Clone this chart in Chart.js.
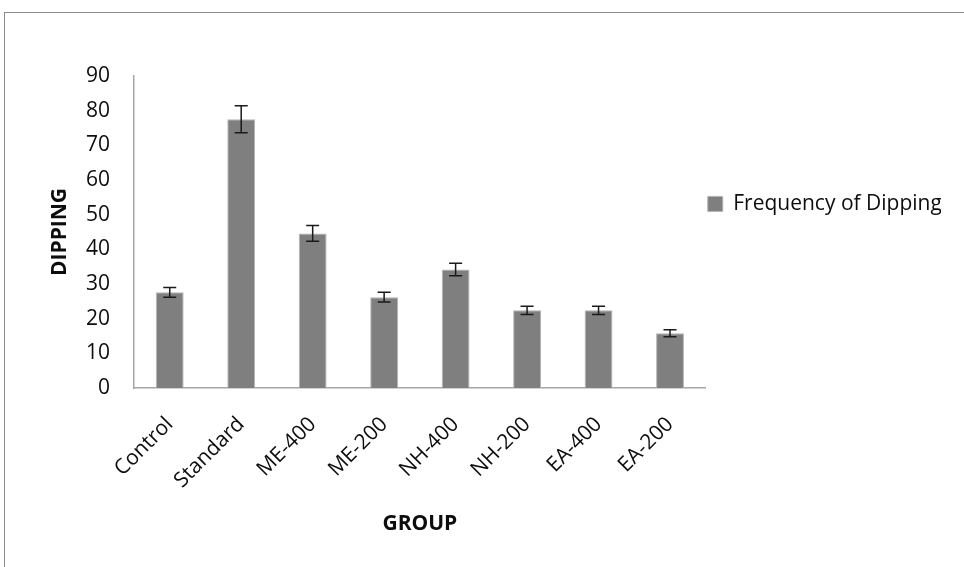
<!DOCTYPE html>
<html>
<head>
<meta charset="utf-8">
<title>Frequency of Dipping</title>
<script src="https://cdn.jsdelivr.net/npm/chart.js@4.4.1/dist/chart.umd.min.js"></script>
<style>
    html, body { margin: 0; padding: 0; background: #fff; overflow: hidden; }
    #chart { position: absolute; left: 0; top: 0; }
    /* outer frame of the pasted figure (right/bottom edge fall off the page) */
    .frame {
        position: absolute; left: 4px; top: 12px;
        width: 1000px; height: 600px;
        border: 1px solid #8c8c8c;
        pointer-events: none;
    }
</style>
</head>
<body>
<canvas id="chart" width="964" height="567"></canvas>
<div class="frame"></div>
<script>
// --- Data ---
const groups = ['Control', 'Standard', 'ME-400', 'ME-200', 'NH-400', 'NH-200', 'EA-400', 'EA-200'];
const dipping = [27.6, 77.5, 44.6, 26.2, 34.2, 22.4, 22.4, 15.8];
const dippingErr = [1.4, 3.9, 2.3, 1.4, 1.8, 1.2, 1.2, 1.0];
const yTicks = [0, 10, 20, 30, 40, 50, 60, 70, 80, 90];

const textColor = '#0d0d0d';
const axisColor = '#a6a6a6';
const fontFamily = '"Open Sans", "Noto Sans", sans-serif';

// --- Error bars (drawn from the same scales as the bars) ---
const errorBars = {
    id: 'errorBars',
    afterDatasetsDraw(chart) {
        const { ctx, scales: { x, y } } = chart;
        ctx.save();
        ctx.strokeStyle = '#1a1a1a';
        ctx.lineWidth = 1.5;
        dipping.forEach((v, i) => {
            const cx = x.getPixelForValue(i);
            const top = y.getPixelForValue(v + dippingErr[i]);
            const bot = y.getPixelForValue(v - dippingErr[i]);
            const cap = 6.5;
            ctx.beginPath();
            ctx.moveTo(cx, top); ctx.lineTo(cx, bot);
            ctx.moveTo(cx - cap, top); ctx.lineTo(cx + cap, top);
            ctx.moveTo(cx - cap, bot); ctx.lineTo(cx + cap, bot);
            ctx.stroke();
        });
        ctx.restore();
    }
};

const ctx = document.getElementById('chart').getContext('2d');
const chart = new Chart(ctx, {
    type: 'bar',
    data: {
        labels: groups,
        datasets: [{
            label: 'Frequency of Dipping',
            data: dipping,
            backgroundColor: '#7f7f7f',
            borderColor: '#b4b4b4',
            borderWidth: 1,
            barPercentage: 0.39,
            categoryPercentage: 1
        }]
    },
    options: {
        responsive: false,
        animation: false,
        devicePixelRatio: 1,
        layout: { padding: { left: 0, top: 76, right: 23, bottom: 0 } },
        plugins: {
            tooltip: { enabled: false },
            legend: {
                position: 'right',
                align: 'start',
                // empty title used only to push the item down to where it sits
                title: { display: true, text: ' ', padding: { top: 101, bottom: 0 } },
                labels: {
                    boxWidth: 15,
                    boxHeight: 15,
                    padding: 2,
                    color: textColor,
                    font: { family: fontFamily, size: 21 }
                }
            }
        },
        scales: {
            x: {
                grid: { display: false, drawTicks: false },
                border: { display: true, color: axisColor, width: 1.5 },
                ticks: {
                    color: textColor,
                    font: { family: fontFamily, size: 21 },
                    minRotation: 45,
                    maxRotation: 45,
                    padding: 24
                },
                title: {
                    display: true,
                    text: 'GROUP',
                    color: textColor,
                    font: { family: fontFamily, size: 21, weight: 'bold' },
                    padding: { top: 0, bottom: 30 }
                },
                afterFit: (scale) => { scale.height = 179; }
            },
            y: {
                min: 0,
                max: 90,
                grid: { display: false, drawTicks: false },
                border: { display: true, color: axisColor, width: 1.5 },
                afterBuildTicks: (scale) => { scale.ticks = yTicks.map(v => ({ value: v })); },
                ticks: {
                    color: textColor,
                    font: { family: fontFamily, size: 21 },
                    padding: 24
                },
                title: {
                    display: true,
                    text: 'DIPPING',
                    color: textColor,
                    font: { family: fontFamily, size: 21, weight: 'bold' },
                    padding: { top: 47, bottom: 0 }
                },
                afterFit: (scale) => { scale.width = 134; }
            }
        }
    },
    plugins: [errorBars]
});
</script>
</body>
</html>
